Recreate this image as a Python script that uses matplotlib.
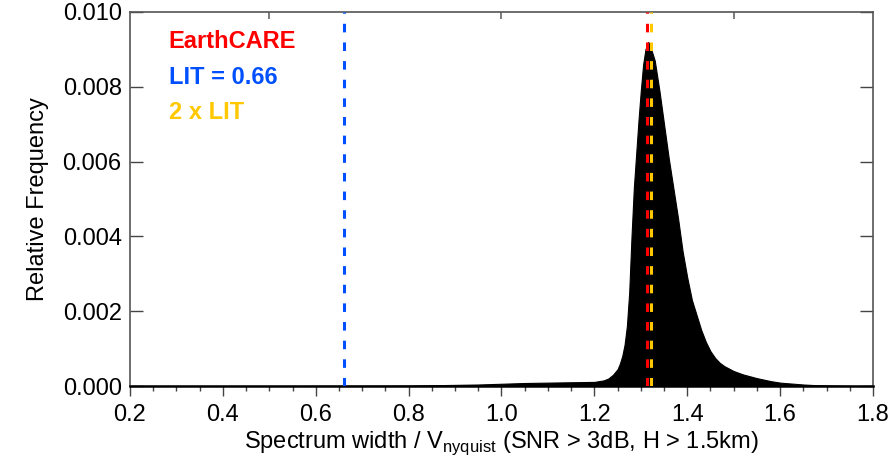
import numpy as np
import matplotlib.pyplot as plt

plt.rcParams['font.family'] = ['Liberation Sans', 'DejaVu Sans']

# spectrum width / V_nyquist bins and relative frequency
width = [0.20, 0.50, 0.70, 0.80, 0.90, 0.95, 1.00, 1.05, 1.10, 1.15, 1.20, 1.21,
         1.22, 1.23, 1.24, 1.25, 1.255, 1.26, 1.265, 1.27, 1.275, 1.28, 1.285,
         1.29, 1.295, 1.30, 1.305, 1.31, 1.316, 1.32, 1.33, 1.34, 1.35, 1.36, 1.37,
         1.38, 1.39, 1.40, 1.41, 1.42, 1.43, 1.44, 1.45, 1.46, 1.47, 1.48, 1.50,
         1.52, 1.55, 1.58, 1.60, 1.63, 1.65, 1.68, 1.72, 1.76, 1.80]
freq = [0.0, 0.0, 0.000005, 0.00001, 0.00003, 0.00004, 0.00006, 0.00008, 0.00009,
        0.0001, 0.00011, 0.00013, 0.00015, 0.0002, 0.0003, 0.00045, 0.0006, 0.0008,
        0.0011, 0.0016, 0.0025, 0.0040, 0.0053, 0.0062, 0.0071, 0.0079, 0.0086,
        0.0090, 0.0092, 0.0091, 0.0087, 0.0079, 0.0070, 0.0061, 0.0053, 0.0045,
        0.0036, 0.0029, 0.0023, 0.0019, 0.0015, 0.00118, 0.00093, 0.00075,
        0.00062, 0.00053, 0.0004, 0.00031, 0.00021, 0.00013, 0.00009, 0.00006,
        0.00004, 0.00002, 0.00001, 0.0, 0.0]

lit = 0.66
earthcare = 1.313
two_lit = 1.321

labels = ['EarthCARE', 'LIT = 0.66', '2 x LIT']
colors = ['#ff0000', '#0050ff', '#ffc800']

fig = plt.figure(figsize=(8.95, 4.69), dpi=100)
ax = fig.add_axes([130/895, 83/469, 743/895, 374/469])

ax.fill_between(width, freq, 0, color='black', lw=0.8, zorder=2)

dash = (2.8, 3.3)
ax.axvline(lit, color=colors[1], lw=2.2, dashes=dash, zorder=3)
ax.axvline(earthcare, color=colors[0], lw=2.2, dashes=dash, zorder=3)
ax.axvline(two_lit, color=colors[2], lw=2.2, dashes=dash, zorder=3)

ax.set_xlim(0.2, 1.8)
ax.set_ylim(0, 0.010)
ax.set_xticks(np.arange(0.2, 1.81, 0.2))
ax.set_xticks(np.arange(0.2, 1.81, 0.05), minor=True)
ax.set_yticks(np.arange(0, 0.0101, 0.002))
ax.set_xticklabels(['%.1f' % v for v in np.arange(0.2, 1.81, 0.2)])
ax.set_yticklabels(['%.3f' % v for v in np.arange(0, 0.0101, 0.002)])

ax.tick_params(axis='x', which='major', direction='out', length=7, width=1,
               labelsize=17, pad=6, color='#444444')
ax.tick_params(axis='x', which='minor', direction='out', length=3.5, width=1,
               color='#444444')
ax.tick_params(axis='y', which='major', direction='in', length=9.5, width=1,
               labelsize=17, right=True, pad=6, color='#444444')

# top axis has its own sparse inward ticks
top = ax.secondary_xaxis('top')
top.set_xticks([0.5, 1.0, 1.5])
top.set_xticklabels([])
top.tick_params(direction='in', length=5, width=1.2, color='#666666')
top.spines['top'].set_visible(False)

for s in ax.spines.values():
    s.set_color('#555555')
    s.set_linewidth(1.2)
ax.spines['bottom'].set_color('black')
ax.spines['bottom'].set_linewidth(1.8)

ax.set_xlabel('Spectrum width / V$_{\\mathregular{nyquist}}$ (SNR > 3dB, H > 1.5km)',
              fontsize=17, labelpad=2)
ax.set_ylabel('Relative Frequency', fontsize=17, labelpad=10)

for i, (t, c) in enumerate(zip(labels, colors)):
    ax.text(0.052, 0.92 - i * 0.094, t, color=c, fontsize=17, fontweight='bold',
            transform=ax.transAxes, va='center', ha='left')

fig.savefig('out.png', dpi=100)
